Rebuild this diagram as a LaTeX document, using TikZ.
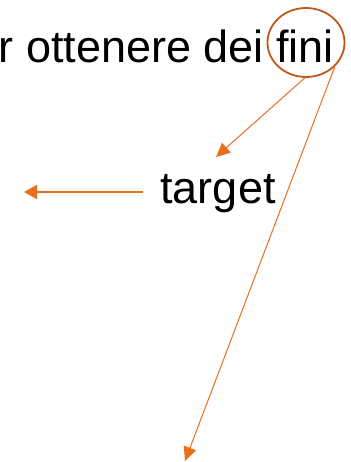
\documentclass[tikz,border=0pt]{standalone}
\usepackage{fontspec}
\setmainfont{Liberation Sans}
\usetikzlibrary{arrows.meta,shapes.geometric}
\definecolor{ringbrown}{HTML}{C0581A}
\definecolor{arroworange}{HTML}{E8701C}
\begin{document}
\begin{tikzpicture}[x=1pt,y=1pt,
  label text/.style={font=\fontsize{45}{54}\selectfont, inner sep=0pt},
  pointer/.style={draw=arroworange, line width=1pt,
    -{Triangle[length=14pt,width=13pt]}},
  thick pointer/.style={pointer, line width=2pt,
    -{Triangle[length=13pt,width=14pt]}}]
  \useasboundingbox (0,0) rectangle (350,-462);
  % phrase, partly cut at the left edge
  \node[label text, anchor=base east] (phrase) at (334,-63) {r ottenere dei fini};
  % ring around "fini"
  \node[draw=ringbrown, line width=1.8pt, ellipse, minimum width=77pt,
        minimum height=69pt, inner sep=0pt] (ring) at (306,-42.5) {};
  % the word "target"
  \node[label text, anchor=base] (target) at (218,-204) {target};
  % arrow ends
  \coordinate (tipA) at (216,-157);
  \coordinate (tipB) at (185,-461);
  \coordinate (leftStart) at (143,-192);
  \coordinate (leftTip) at (24,-192);
  \draw[pointer] (ring.-92) -- (tipA);
  \draw[pointer] (ring.-40) -- (tipB);
  \draw[thick pointer] (leftStart) -- (leftTip);
\end{tikzpicture}
\end{document}
